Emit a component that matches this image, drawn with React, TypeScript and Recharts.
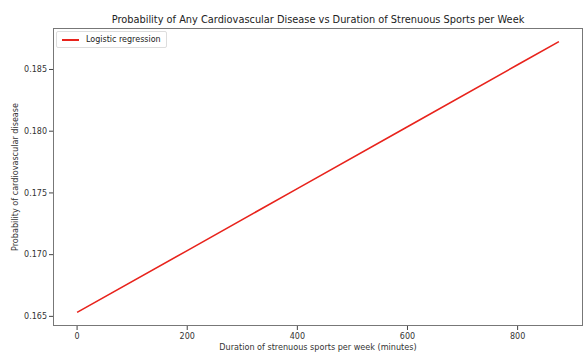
import { LineChart, Line, XAxis, YAxis, Legend } from "recharts";

const minutes = [0, 200, 400, 600, 800, 875];
const probability = [0.16532, 0.17033, 0.17535, 0.18036, 0.18538, 0.18726];
const xTicks = [0, 200, 400, 600, 800];
const yTicks = [0.165, 0.17, 0.175, 0.18, 0.185];

const data = minutes.map((m, i) => ({ minutes: m, prob: probability[i] }));

const font = "'DejaVu Sans', sans-serif";
const W = 586;
const H = 352;
const plot = { left: 53, top: 28, right: 583, bottom: 326 };

function LegendBox() {
  return (
    <div
      style={{
        position: "absolute",
        left: plot.left + 3,
        top: plot.top + 3,
        height: 17,
        boxSizing: "border-box",
        border: "1px solid #ddd",
        borderRadius: 2,
        background: "rgba(255,255,255,0.8)",
        padding: "0 5px",
        display: "flex",
        alignItems: "center",
        gap: 7,
        whiteSpace: "nowrap",
        fontFamily: font,
        fontSize: 8,
        color: "#222",
      }}
    >
      <div style={{ width: 17, height: 2, background: "#e8231c" }} />
      <span>Logistic regression</span>
    </div>
  );
}

export default function App() {
  return (
    <div
      style={{
        position: "absolute",
        left: 0,
        top: 0,
        width: W,
        height: H,
        background: "#fff",
        fontFamily: font,
      }}
    >
      <div
        style={{
          position: "absolute",
          left: plot.left,
          width: plot.right - plot.left,
          top: 14,
          textAlign: "center",
          fontSize: 9.8,
          color: "#222",
        }}
      >
        Probability of Any Cardiovascular Disease vs Duration of Strenuous Sports per Week
      </div>
      <LineChart
        width={W}
        height={H}
        data={data}
        margin={{ top: plot.top, right: W - plot.right, bottom: 2, left: 8 }}
      >
        <XAxis
          dataKey="minutes"
          type="number"
          domain={[-43.75, 918.75]}
          ticks={xTicks}
          allowDataOverflow
          axisLine={false}
          tickLine={{ stroke: "#444" }}
          tickSize={4}
          tickMargin={3}
          height={24}
          tick={{ fontSize: 8, fill: "#333", fontFamily: font }}
        />
        <YAxis
          type="number"
          domain={[0.16422, 0.18836]}
          ticks={yTicks}
          allowDataOverflow
          axisLine={false}
          tickLine={{ stroke: "#444" }}
          tickSize={4}
          width={45}
          tickFormatter={(v: number) => v.toFixed(3)}
          tick={{ fontSize: 8, fill: "#333", fontFamily: font }}
        />
        <Legend content={() => null} />
        <Line
          type="linear"
          dataKey="prob"
          name="Logistic regression"
          stroke="#e8231c"
          strokeWidth={1.6}
          dot={false}
          isAnimationActive={false}
        />
      </LineChart>
      <div
        style={{
          position: "absolute",
          left: plot.left,
          top: plot.top,
          width: plot.right - plot.left,
          height: plot.bottom - plot.top,
          border: "1px solid #777",
          boxSizing: "border-box",
          pointerEvents: "none",
        }}
      />
      <LegendBox />
      <div
        style={{
          position: "absolute",
          left: plot.left,
          width: plot.right - plot.left,
          top: 342,
          textAlign: "center",
          fontSize: 8.1,
          color: "#333",
        }}
      >
        Duration of strenuous sports per week (minutes)
      </div>
      <div
        style={{
          position: "absolute",
          left: 15,
          top: (plot.top + plot.bottom) / 2,
          transform: "translate(-50%, -50%) rotate(-90deg)",
          whiteSpace: "nowrap",
          fontSize: 8.1,
          color: "#333",
        }}
      >
        Probability of cardiovascular disease
      </div>
    </div>
  );
}
